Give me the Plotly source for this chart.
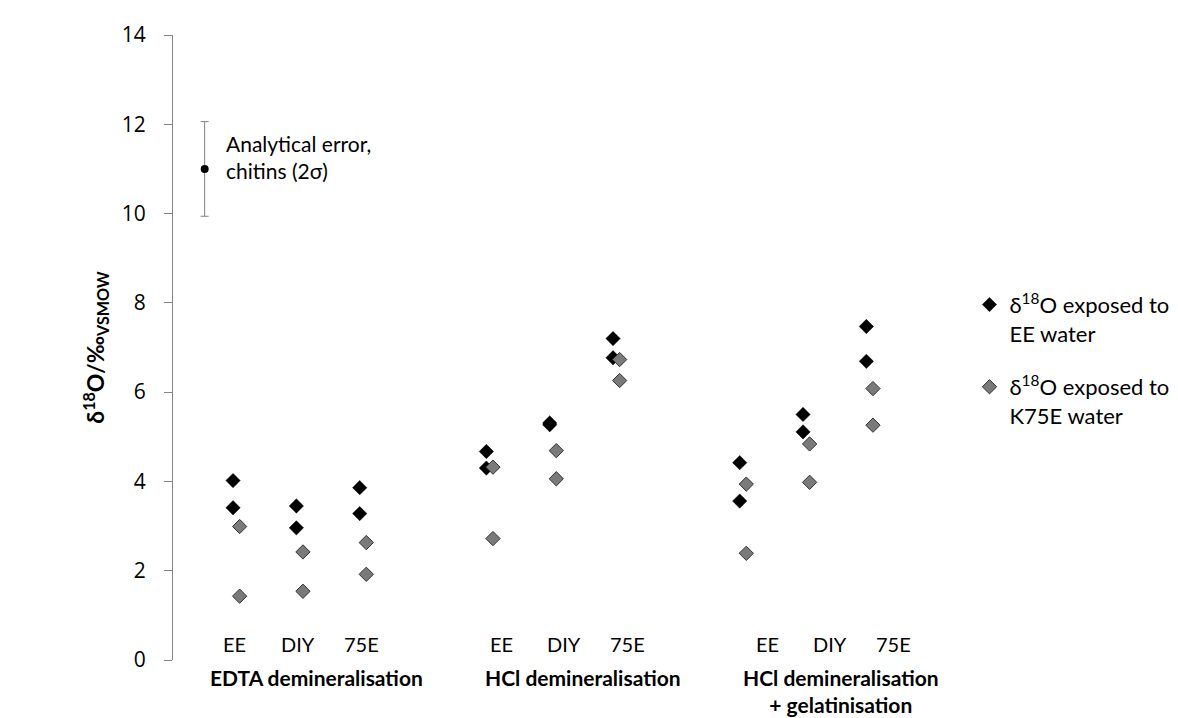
import plotly.graph_objects as go

# ---------------- data ----------------
groups = ["EDTA demineralisation", "HCl demineralisation", "HCl demineralisation<br>+ gelatinisation"]
treatments = ["EE", "DIY", "75E"]
# two replicates per treatment, ordered group -> treatment -> replicate
ee_water_values = [4.02, 3.41, 3.45, 2.96, 3.86, 3.28,
                   4.67, 4.30, 5.31, 5.27, 7.20, 6.77,
                   4.42, 3.56, 5.50, 5.11, 7.47, 6.69]
k75e_water_values = [2.99, 1.43, 2.42, 1.54, 2.63, 1.92,
                     4.32, 2.72, 4.69, 4.06, 6.73, 6.26,
                     3.94, 2.39, 4.84, 3.98, 6.08, 5.26]
replicates = 2
error_center = 11.0
error_2sigma = 1.06
y_ticks = [0, 2, 4, 6, 8, 10, 12, 14]

# ---------------- layout helpers ----------------
slots_per_group = len(treatments) + 1
series_offset = 0.052
label_shift = [-0.03, 0.18, 0.38]
group_label_x = [1.26, 5.47, 9.55]

def slot(g, t):
    return g * slots_per_group + t

x_black, x_grey = [], []
for g in range(len(groups)):
    for t in range(len(treatments)):
        for r in range(replicates):
            x_black.append(slot(g, t) - series_offset)
            x_grey.append(slot(g, t) + series_offset)

FONT = "Lato"
fig = go.Figure()

fig.add_trace(go.Scatter(
    x=x_black, y=ee_water_values, mode="markers",
    name="δ<sup>18</sup>O exposed to<br>EE water", legendgroup="a",
    marker=dict(symbol="diamond", size=11, color="#000000",
                line=dict(color="#000000", width=0.5)),
))
fig.add_trace(go.Scatter(
    x=x_grey, y=k75e_water_values, mode="markers",
    name="δ<sup>18</sup>O exposed to<br>K75E water", legendgroup="b",
    marker=dict(symbol="diamond", size=11, color="#7a7a7a",
                line=dict(color="#333333", width=1)),
))
fig.add_trace(go.Scatter(
    x=[-0.5], y=[error_center], mode="markers", showlegend=False,
    marker=dict(symbol="circle", size=8, color="#000000"),
    error_y=dict(type="data", array=[error_2sigma], symmetric=True,
                 color="#808080", thickness=1, width=4),
))

annotations = []
annotations.append(dict(
    x=-0.19, y=error_center + 0.27, xref="x", yref="y",
    text="Analytical error,<br>chitins (2σ)", showarrow=False,
    xanchor="left", yanchor="middle", align="left",
    font=dict(family=FONT, size=21, color="#000000"),
))
for g in range(len(groups)):
    for t, name in enumerate(treatments):
        annotations.append(dict(
            x=slot(g, t) + label_shift[g], y=(652 - 636) / 628, xref="x", yref="paper",
            text=name, showarrow=False, xanchor="center", yanchor="middle",
            font=dict(family=FONT, size=20, color="#000000"),
        ))
    annotations.append(dict(
        x=group_label_x[g], y=(652 - 655) / 628, xref="x", yref="paper",
        text="<b>" + groups[g].replace("<br>", "</b><br><b>") + "</b>", showarrow=False,
        xanchor="center", yanchor="top", align="center",
        font=dict(family=FONT, size=21, color="#000000"),
    ))

fig.update_layout(
    width=1178, height=718,
    margin=dict(l=165, r=244, t=24, b=66),
    paper_bgcolor="white", plot_bgcolor="white",
    font=dict(family=FONT, size=20, color="#000000"),
    showlegend=True,
    legend=dict(x=1.048, y=0.602, xanchor="left", yanchor="top",
                font=dict(family=FONT, size=22, color="#000000"),
                tracegroupgap=22, valign="top", bgcolor="rgba(0,0,0,0)"),
    annotations=annotations,
    xaxis=dict(range=[-1, 11], showgrid=False, zeroline=False, showline=False,
               showticklabels=False, ticks=""),
    yaxis=dict(range=[0, 14], tickvals=y_ticks, showgrid=False, zeroline=False,
               showline=True, linecolor="#868686", linewidth=1,
               ticks="outside", ticklen=8, tickcolor="#868686",
               ticklabelstandoff=14,
               tickfont=dict(family="Open Sans", size=21, color="#000000"),
               title=dict(text="<b>δ<sup>18</sup>O/‰<sub>VSMOW</sub></b>",
                          font=dict(family=FONT, size=23, color="#000000"),
                          standoff=10)),
)

fig.write_html("out.html")
